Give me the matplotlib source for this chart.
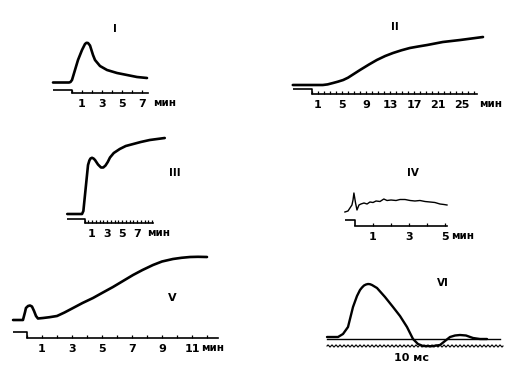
import numpy as np
import matplotlib
matplotlib.use("Agg")
import matplotlib.pyplot as plt

plt.rcParams['font.family'] = ['DejaVu Sans']

# ---------------- data (time in min / ms, amplitude in arbitrary units) -------------
# Panel I
t1 = [-1.9, -0.3, -0.15, 0.0, 0.3, 0.6, 1.0, 1.3, 1.45, 1.6, 1.8, 2.1, 2.3, 2.8, 3.5,
      4.5, 5.5, 6.5, 7.5]
a1 = [0.0, 0.0, 0.05, 0.25, 1.25, 2.25, 3.25, 3.85, 3.97, 3.95, 3.7, 2.75, 2.25, 1.65,
      1.25, 0.95, 0.75, 0.55, 0.45]
ticks1 = [0, 1, 2, 3, 4, 5, 6, 7]
labels1 = [1, 3, 5, 7]

# Panel II
t2 = [-3.2, 1.8, 2.6, 3.5, 4.3, 5.2, 6.0, 6.7, 8.0, 9.5, 10.8, 12.2, 13.5, 14.9, 16.3,
      17.8, 19.2, 20.5, 21.8, 24.7, 28.5]
a2 = [0.0, 0.0, 0.06, 0.2, 0.33, 0.5, 0.73, 1.0, 1.5, 2.05, 2.5, 2.9, 3.2, 3.47, 3.7,
      3.86, 4.0, 4.15, 4.3, 4.5, 4.8]
ticks2 = list(range(0, 28))
labels2 = [1, 5, 9, 13, 17, 21, 25]

# Panel III
t3 = [-2.3, -0.33, -0.15, -0.07, 0.2, 0.47, 0.65, 0.8, 1.0, 1.2, 1.4, 1.8, 2.2, 2.5,
      2.8, 3.1, 3.4, 3.9, 4.7, 5.5, 6.5, 7.5, 8.7, 9.7, 10.7]
a3 = [0.0, 0.0, 0.3, 0.9, 2.9, 4.9, 5.35, 5.55, 5.62, 5.55, 5.4, 4.95, 4.65, 4.65,
      4.85, 5.2, 5.65, 6.1, 6.5, 6.8, 7.0, 7.2, 7.4, 7.5, 7.6]
ticks3 = [i * 0.5 for i in range(0, 19)]
labels3 = [1, 3, 5, 7]

# Panel IV
t4 = [-0.56, -0.39, -0.28, -0.17, -0.11, -0.06, 0.03, 0.11, 0.22, 0.33, 0.5, 0.67, 0.83,
      1.0, 1.17, 1.39, 1.6, 1.78, 2.0, 2.28, 2.5, 2.78, 3.06, 3.33, 3.61, 3.89, 4.17,
      4.44, 4.72, 4.94, 5.11]
a4 = [0.0, 0.1, 0.4, 0.7, 1.2, 1.9, 0.9, 0.2, 0.7, 0.8, 0.9, 0.8, 1.0,
      0.95, 1.1, 1.05, 1.3, 1.15, 1.2, 1.15, 1.25, 1.25, 1.15, 1.1, 1.15, 1.05, 1.0,
      0.95, 0.8, 0.75, 0.7]
ticks4 = [1, 2, 3, 4, 5]
labels4 = [1, 3, 5]

# Panel V
t5 = [-0.93, -0.27, -0.13, -0.07, 0.07, 0.2, 0.33, 0.47, 0.6, 0.73, 1.07, 1.5, 2.0, 2.5,
      3.07, 3.7, 4.4, 5.0, 5.73, 6.4, 7.07, 7.7, 8.4, 9.0, 9.73, 10.3, 10.87, 11.4, 12.0]
a5 = [0.0, 0.0, 0.8, 1.2, 1.4, 1.45, 1.35, 0.9, 0.4, 0.15, 0.2, 0.28, 0.4, 0.75,
      1.2, 1.7, 2.2, 2.7, 3.3, 3.9, 4.5, 5.0, 5.5, 5.85, 6.1, 6.22, 6.3, 6.32, 6.3]
ticks5 = list(range(0, 13))
labels5 = [1, 3, 5, 7, 9, 11]

# Panel VI (ms)
t6 = [0, 2.75, 4.0, 5.25, 6.5, 7.5, 8.25, 8.75, 9.25, 9.75, 10.25, 10.75, 11.25, 11.75,
      12.5, 14.5, 16.5, 18.25, 20.0, 21.5, 22.75, 24.0, 26.25, 28.25, 29.5, 30.75,
      32.0, 33.25, 34.75, 36.5, 38.25, 40.0]
a6 = [0, 0, 0.3, 1.0, 3.0, 4.1, 4.7, 4.95, 5.15, 5.25, 5.3, 5.28, 5.2, 5.08,
      4.9, 4.0, 3.0, 2.1, 1.0, -0.2, -0.7, -0.9, -0.92, -0.8, -0.4, 0.0,
      0.15, 0.2, 0.15, -0.1, -0.2, -0.2]

W, H = 520, 381
fig = plt.figure(figsize=(W / 100, H / 100), dpi=100)
fig.patch.set_facecolor('white')

FS = 8


def panel(x0, ppx, y0, xlim, ylim, ppy=10):
    left = x0 + xlim[0] * ppx
    right = x0 + xlim[1] * ppx
    top = y0 - ylim[1] * ppy
    bottom = y0 - ylim[0] * ppy
    ax = fig.add_axes([left / W, 1 - bottom / H, (right - left) / W, (bottom - top) / H])
    ax.set_xlim(xlim)
    ax.set_ylim(ylim)
    ax.patch.set_visible(False)
    for s in ['left', 'right', 'top']:
        ax.spines[s].set_visible(False)
    ax.yaxis.set_visible(False)
    return ax


def time_axis(ax, hi, lo, tstart, tend, ticks, labels, unit_x, pad=4.0):
    # stimulus marker: high before, step down at 0, continuing as time axis
    ax.plot([tstart, 0, 0], [hi, hi, lo], color='black', lw=1.2, solid_capstyle='butt')
    sp = ax.spines['bottom']
    sp.set_position(('data', lo))
    sp.set_bounds(0, tend)
    sp.set_linewidth(1.2)
    ax.set_xticks(labels, [str(v) for v in labels])
    ax.set_xticks([t for t in ticks if t not in labels], minor=True)
    ax.tick_params(axis='x', which='both', direction='in', length=2.2, width=0.9,
                   pad=pad, labelsize=FS)
    for lab in ax.get_xticklabels():
        lab.set_fontweight('bold')
    ax.annotate('мин', xy=(unit_x, lo), xytext=(0, -pad + 0.2), textcoords='offset points',
                ha='center', va='top', fontsize=7.5, fontweight='bold')


# Panel I
ax = panel(72, 10, 82.5, (-2.5, 10.5), (-2.5, 6))
ax.plot(t1, a1, color='black', lw=1.9, solid_capstyle='round', solid_joinstyle='round')
time_axis(ax, -0.75, -1.05, -1.9, 7.6, ticks1, labels1, 9.3)
ax.text(4.3, 5.4, 'I', ha='center', va='center', fontsize=7.5, fontweight='bold')

# Panel II
ax = panel(312, 6, 85, (-4, 32), (-2.5, 6.5))
ax.plot(t2, a2, color='black', lw=1.9, solid_capstyle='round', solid_joinstyle='round')
time_axis(ax, -0.4, -0.9, -3.2, 27.5, ticks2, labels2, 29.7)
ax.text(13.8, 5.8, 'II', ha='center', va='center', fontsize=7.5, fontweight='bold')

# Panel III
ax = panel(84.5, 7.5, 214, (-3, 14), (-2.5, 8.5))
ax.plot(t3, a3, color='black', lw=1.9, solid_capstyle='round', solid_joinstyle='round')
time_axis(ax, -0.5, -0.9, -2.3, 9.1, ticks3, labels3, 9.9)
ax.text(12.1, 4.1, 'III', ha='center', va='center', fontsize=7.5, fontweight='bold')

# Panel IV
ax = panel(355, 18, 212, (-1, 7), (-2.5, 4.5))
ax.plot(t4, a4, color='black', lw=1.0)
time_axis(ax, -0.8, -1.4, -0.56, 5.1, ticks4, labels4, 6.0)
ax.text(3.2, 3.9, 'IV', ha='center', va='center', fontsize=7.5, fontweight='bold')

# Panel V
ax = panel(27, 15, 320, (-1.5, 13.5), (-3, 7))
ax.plot(t5, a5, color='black', lw=1.9, solid_capstyle='round', solid_joinstyle='round')
time_axis(ax, -1.2, -1.8, -0.93, 12.7, ticks5, labels5, 12.4)
ax.text(9.7, 2.2, 'V', ha='center', va='center', fontsize=8, fontweight='bold')

# Panel VI
ax = panel(327, 4, 337, (-1, 46), (-3, 6.5))
ax.spines['bottom'].set_visible(False)
ax.set_xticks([])
ax.plot(t6, a6, color='black', lw=1.7, solid_capstyle='round', solid_joinstyle='round')
ax.plot([0, 43.25], [-0.2, -0.2], color='black', lw=1.0)
# 1-ms time-base sinusoid (calibration signal)
tw = np.linspace(0, 44, 1500)
ax.plot(tw, -0.9 + 0.1 * np.sin(2 * np.pi * tw), color='black', lw=0.8)
ax.text(21.25, -2.1, '10 мс', ha='center', va='center', fontsize=8, fontweight='bold')
ax.text(29, 5.4, 'VI', ha='center', va='center', fontsize=7.5, fontweight='bold')

fig.savefig('out.png', dpi=100, facecolor='white')
